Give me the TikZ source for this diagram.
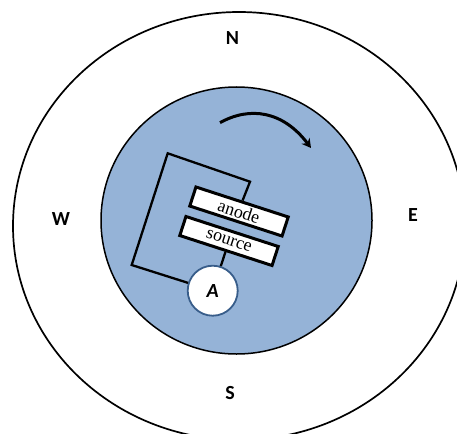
\documentclass[tikz,border=0pt]{standalone}
\usepackage{fontspec}
\setmainfont{Liberation Serif}
\newfontfamily\labelfont{Carlito}
\newfontfamily\platefont{Liberation Serif}
\usetikzlibrary{shapes.geometric,arrows.meta}
\definecolor{discblue}{HTML}{95B3D7}
\definecolor{ringblue}{HTML}{385D8A}
\tikzset{
  compass/.style={font=\labelfont\bfseries\fontsize{20}{22}\selectfont,inner sep=0pt},
  plate/.style={draw=black,line width=3pt,fill=white,rotate=-18,minimum width=97pt,minimum height=20pt,inner sep=0pt,text depth=0pt,font=\platefont\fontsize{18}{20}\selectfont},
  wire/.style={draw=black,line width=2.3pt,line join=miter},
  disc/.style={ellipse,inner sep=0pt,outer sep=0pt},
}
\begin{document}
\begin{tikzpicture}[x=1pt,y=-1pt]
\useasboundingbox (0,0) rectangle (457,433);
\clip (0,0) rectangle (457,433);
\node[disc,draw=black,line width=1.7pt,minimum width=452pt,minimum height=428pt] (outer) at (239,226) {};
\node[disc,draw=black,line width=1.5pt,fill=discblue,minimum width=271pt,minimum height=267pt] (inner) at (236.5,220.5) {};
\node[compass] (n) at (232.5,38) {N};
\node[compass] (w) at (61,219) {W};
\node[compass] (e) at (413,215) {E};
\node[compass] (s) at (230,393) {S};
\coordinate (c1) at (250,181.7);
\coordinate (c2) at (167.7,153.3);
\coordinate (c3) at (131.7,265);
\node[plate] (anode) at (239,211.5) {anode};
\node[plate] (source) at (229,241) {source};
\node[circle,draw=ringblue,line width=1.8pt,fill=white,minimum size=50pt,inner sep=0pt,font=\labelfont\bfseries\itshape\fontsize{20}{22}\selectfont] (meter) at (212.7,290.7) {A};
\draw[wire] (anode.north) -- (c1) -- (c2) -- (c3) -- (meter);
\draw[wire] (source.south) -- (meter);
\coordinate (arcstart) at (220,122.7);
\coordinate (arcend) at (311,148);
\draw[line width=3pt,-{Stealth[length=9pt,width=10pt]}] (arcstart) .. controls (250,106) and (283,111) .. (arcend);
\end{tikzpicture}
\end{document}
